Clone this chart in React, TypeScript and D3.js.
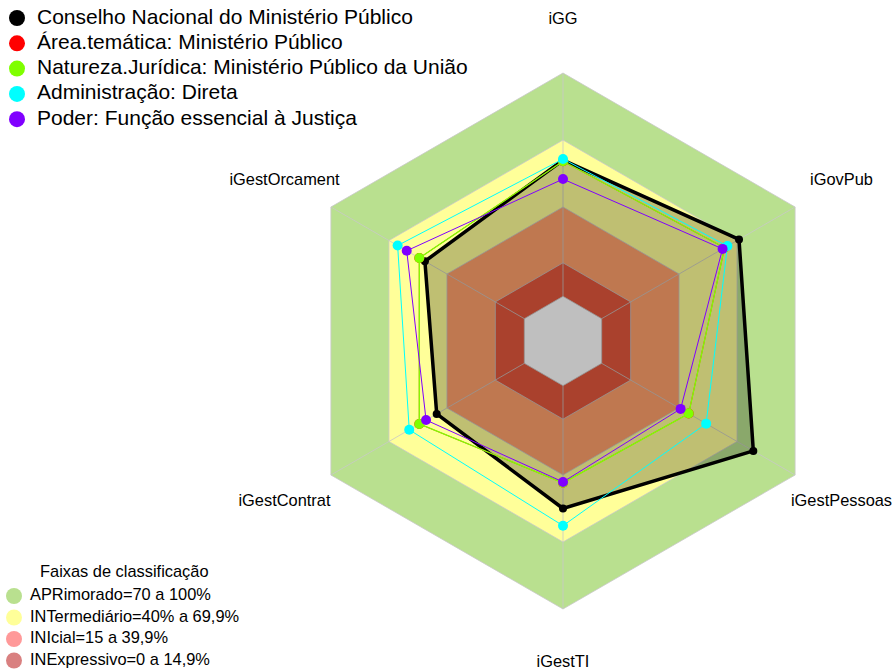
import React from "react";
import * as d3 from "d3";

// eixos no sentido horário a partir do topo
const axes = ["iGG", "iGovPub", "iGestPessoas", "iGestTI", "iGestContrat", "iGestOrcament"];

const cnmp = [61, 71, 78.4, 55, 45.3, 51.4];
const areaTematica = [60.5, 63.5, 45, 43.5, 54.3, 54.3];
const natureza = [60.5, 63.5, 45, 43.5, 54.3, 54.3];
const administracao = [61.5, 65, 54, 62.7, 59.5, 65.5];
const poder = [52.5, 62.5, 40.8, 43.1, 50.8, 60.8];

const seriesNames = [
  "Conselho Nacional do Ministério Público",
  "Área.temática: Ministério Público",
  "Natureza.Jurídica: Ministério Público da União",
  "Administração: Direta",
  "Poder: Função essencial à Justiça",
];
const seriesColors = ["#000000", "#ff0000", "#7fff00", "#00ffff", "#8000ff"];

// faixas de classificação
const bandLimits = [100, 70, 40, 15];
const bandColors = ["#b9e08f", "#ffff99", "#ffa06b", "#e3573c"];
const bandLegend = [
  "APRimorado=70 a 100%",
  "INTermediário=40% a 69,9%",
  "INIcial=15 a 39,9%",
  "INExpressivo=0 a 14,9%",
];
const bandLegendColors = ["#b9e08f", "#ffff99", "#ff9999", "#d98080"];

const W = 896;
const H = 672;
const cx = 563;
const cy = 341;

export default function App() {
  const r = d3.scaleLinear().domain([-20, 100]).range([0, 268]);
  const angle = (i: number) => -Math.PI / 2 + (i * 2 * Math.PI) / axes.length;
  const pt = (i: number, v: number): [number, number] => [
    cx + r(v) * Math.cos(angle(i)),
    cy + r(v) * Math.sin(angle(i)),
  ];
  const ring = (v: number) =>
    d3.line().curve(d3.curveLinearClosed)(axes.map((_, i) => pt(i, v))) as string;
  const shape = (vals: number[]) =>
    d3.line().curve(d3.curveLinearClosed)(vals.map((v, i) => pt(i, v))) as string;

  const allSeries = [cnmp, areaTematica, natureza, administracao, poder];

  return (
    <svg
      width={W}
      height={H}
      style={{ position: "absolute", left: 0, top: 0 }}
      fontFamily="Liberation Sans, Arial, sans-serif"
    >
      <rect width={W} height={H} fill="#fff" />

      {bandLimits.map((b, k) => (
        <path key={"band" + k} d={ring(b)} fill={bandColors[k]} />
      ))}
      <path d={ring(0)} fill="#fff" />

      {[0, 15, 40, 70, 100].map((b) => (
        <path key={"grid" + b} d={ring(b)} fill="none" stroke="#c8c8c8" strokeOpacity={0.8} />
      ))}
      {axes.map((a, i) => {
        const [x0, y0] = pt(i, 0);
        const [x, y] = pt(i, 100);
        return (
          <line key={"ax" + a} x1={x0} y1={y0} x2={x} y2={y} stroke="#c8c8c8" strokeOpacity={0.8} />
        );
      })}

      {/* área da série principal */}
      <path d={shape(cnmp)} fill="#000" fillOpacity={0.25} />

      {allSeries.map((s, k) => (
        <g key={"s" + k}>
          <path
            d={shape(s)}
            fill="none"
            stroke={seriesColors[k]}
            strokeWidth={k === 0 ? 3.5 : k === 1 ? 0.8 : k === 2 ? 1.3 : 1}
            strokeLinejoin="round"
          />
          {s.map((v, i) => {
            const [x, y] = pt(i, v);
            return <circle key={i} cx={x} cy={y} r={k === 0 ? 4 : 5} fill={seriesColors[k]} />;
          })}
        </g>
      ))}

      {axes.map((a, i) => {
        const [x, y] = pt(i, 124);
        return (
          <text key={"lab" + a} x={x} y={y} textAnchor="middle" dominantBaseline="middle" fontSize={16.4} fill="#000">
            {a}
          </text>
        );
      })}

      {seriesNames.map((n, k) => (
        <g key={"leg" + k} transform={`translate(0,${18 + k * 25.3})`}>
          <circle cx={17} cy={0} r={8} fill={seriesColors[k]} />
          <text x={37} y={0} dominantBaseline="middle" fontSize={21} fill="#000">
            {n}
          </text>
        </g>
      ))}

      <text x={40} y={573} dominantBaseline="middle" fontSize={16.4} fill="#000">
        Faixas de classificação
      </text>
      {bandLegend.map((n, k) => (
        <g key={"bl" + k} transform={`translate(0,${596 + k * 21.5})`}>
          <circle cx={14} cy={0} r={8} fill={bandLegendColors[k]} />
          <text x={30} y={0} dominantBaseline="middle" fontSize={16.4} fill="#000">
            {n}
          </text>
        </g>
      ))}
    </svg>
  );
}
